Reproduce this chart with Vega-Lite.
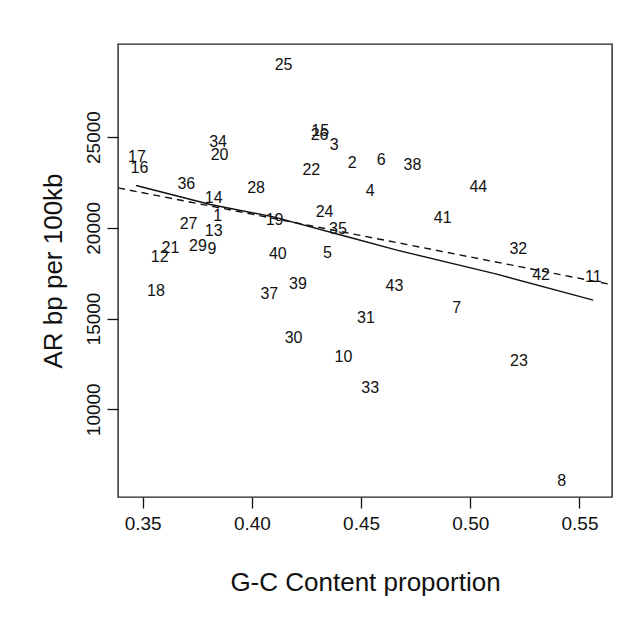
{
  "$schema": "https://vega.github.io/schema/vega-lite/v6.json",
  "width": 494,
  "height": 453,
  "autosize": {"type": "none"},
  "padding": {"left": 118, "top": 44, "right": 29, "bottom": 125},
  "background": "white",
  "config": {
    "view": {"stroke": "#222222", "strokeWidth": 1.4},
    "font": "Liberation Sans",
    "axis": {
      "grid": false,
      "domain": false,
      "tickColor": "#111111",
      "tickWidth": 1.3,
      "tickSize": 11,
      "labelColor": "#111111",
      "labelFont": "Liberation Sans",
      "labelFontSize": 19,
      "titleFont": "Liberation Sans",
      "titleFontSize": 26,
      "titleFontWeight": "normal",
      "titleColor": "#111111"
    }
  },
  "datasets": {
    "pts": [
      {"gc": 0.3843, "ar": 20655, "id": "1"},
      {"gc": 0.4459, "ar": 23585, "id": "2"},
      {"gc": 0.4377, "ar": 24587, "id": "3"},
      {"gc": 0.4542, "ar": 22015, "id": "4"},
      {"gc": 0.4346, "ar": 18585, "id": "5"},
      {"gc": 0.4592, "ar": 23722, "id": "6"},
      {"gc": 0.4938, "ar": 15556, "id": "7"},
      {"gc": 0.5419, "ar": 6050, "id": "8"},
      {"gc": 0.3817, "ar": 18822, "id": "9"},
      {"gc": 0.4419, "ar": 12858, "id": "10"},
      {"gc": 0.5563, "ar": 17263, "id": "11"},
      {"gc": 0.3578, "ar": 18398, "id": "12"},
      {"gc": 0.3825, "ar": 19829, "id": "13"},
      {"gc": 0.3825, "ar": 21668, "id": "14"},
      {"gc": 0.4313, "ar": 25336, "id": "15"},
      {"gc": 0.3485, "ar": 23299, "id": "16"},
      {"gc": 0.3474, "ar": 23904, "id": "17"},
      {"gc": 0.3561, "ar": 16525, "id": "18"},
      {"gc": 0.4104, "ar": 20419, "id": "19"},
      {"gc": 0.3852, "ar": 24014, "id": "20"},
      {"gc": 0.3627, "ar": 18860, "id": "21"},
      {"gc": 0.4272, "ar": 23172, "id": "22"},
      {"gc": 0.5223, "ar": 12671, "id": "23"},
      {"gc": 0.4333, "ar": 20843, "id": "24"},
      {"gc": 0.4145, "ar": 28954, "id": "25"},
      {"gc": 0.431, "ar": 25099, "id": "26"},
      {"gc": 0.371, "ar": 20182, "id": "27"},
      {"gc": 0.4019, "ar": 22219, "id": "28"},
      {"gc": 0.3753, "ar": 19003, "id": "29"},
      {"gc": 0.4191, "ar": 13904, "id": "30"},
      {"gc": 0.4522, "ar": 15006, "id": "31"},
      {"gc": 0.522, "ar": 18805, "id": "32"},
      {"gc": 0.4542, "ar": 11151, "id": "33"},
      {"gc": 0.3845, "ar": 24730, "id": "34"},
      {"gc": 0.4394, "ar": 19906, "id": "35"},
      {"gc": 0.37, "ar": 22401, "id": "36"},
      {"gc": 0.408, "ar": 16327, "id": "37"},
      {"gc": 0.4735, "ar": 23486, "id": "38"},
      {"gc": 0.4211, "ar": 16878, "id": "39"},
      {"gc": 0.4119, "ar": 18530, "id": "40"},
      {"gc": 0.4874, "ar": 20545, "id": "41"},
      {"gc": 0.5324, "ar": 17390, "id": "42"},
      {"gc": 0.4653, "ar": 16801, "id": "43"},
      {"gc": 0.5037, "ar": 22252, "id": "44"}
    ],
    "lm": [
      {"gc": 0.3387, "ar": 22197},
      {"gc": 0.5649, "ar": 16861}
    ],
    "smooth": [
      {"gc": 0.347, "ar": 22329},
      {"gc": 0.381, "ar": 21283},
      {"gc": 0.4099, "ar": 20600},
      {"gc": 0.445, "ar": 19466},
      {"gc": 0.4664, "ar": 18767},
      {"gc": 0.5121, "ar": 17445},
      {"gc": 0.5563, "ar": 16013}
    ]
  },
  "layer": [
    {
      "data": {"name": "lm"},
      "mark": {"type": "line", "color": "#111111", "strokeWidth": 1.4, "strokeDash": [7, 5], "clip": true},
      "encoding": {
        "x": {"field": "gc", "type": "quantitative", "scale": {"domain": [0.3387, 0.5649], "nice": false, "zero": false},
          "axis": {"values": [0.35, 0.4, 0.45, 0.5, 0.55], "format": ".2f", "labelPadding": 6, "title": "G-C Content proportion", "titlePadding": 36}},
        "y": {"field": "ar", "type": "quantitative", "scale": {"domain": [5165, 30127], "nice": false, "zero": false},
          "axis": {"values": [10000, 15000, 20000, 25000], "format": "d", "labelAngle": 270, "labelAlign": "center", "labelBaseline": "bottom", "labelPadding": 4, "title": "AR bp per 100kb", "titlePadding": 18}}
      }
    },
    {
      "data": {"name": "smooth"},
      "mark": {"type": "line", "color": "#111111", "strokeWidth": 1.4},
      "encoding": {
        "x": {"field": "gc", "type": "quantitative"},
        "y": {"field": "ar", "type": "quantitative"}
      }
    },
    {
      "data": {"name": "pts"},
      "mark": {"type": "text", "fontSize": 16, "font": "Liberation Sans", "color": "#111111", "align": "center", "baseline": "middle"},
      "encoding": {
        "x": {"field": "gc", "type": "quantitative"},
        "y": {"field": "ar", "type": "quantitative"},
        "text": {"field": "id", "type": "nominal"}
      }
    }
  ]
}
